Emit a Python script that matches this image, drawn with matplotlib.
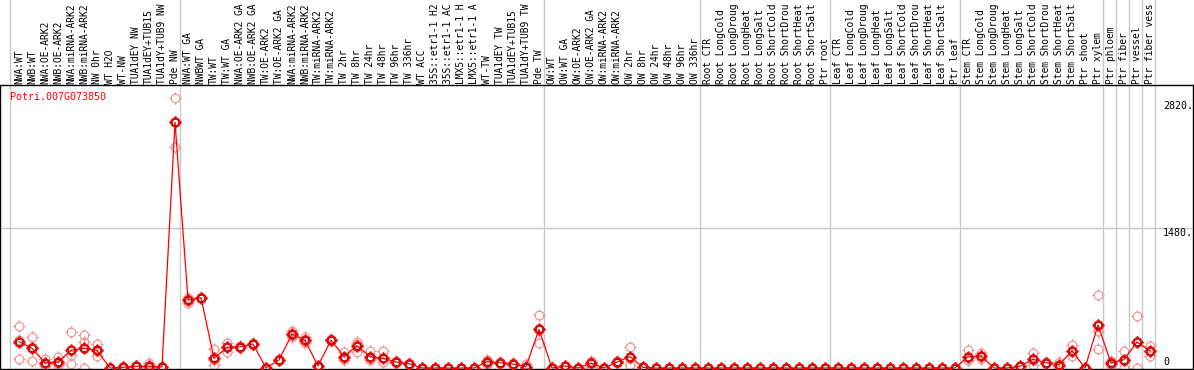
"""
Expression profile of Potri.007G073850 across poplar samples:
replicate values (light) and sample means (line).
"""

import matplotlib

matplotlib.use("Agg")
import matplotlib.pyplot as plt
from matplotlib.path import Path

gene = "Potri.007G073850"

# sample names as shown (the chart cuts them at 14 characters)
samples = [
    "NWA:WT", "NWB:WT", "NWA:OE-ARK2", "NWB:OE-ARK2", "NWA:miRNA-ARK2",
    "NWB:miRNA-ARK2", "NW 0hr", "WT H2O", "WT-NW", "TUA1dEY NW",
    "TUA1dEY+TUB15", "TUA1dY+TUB9 NW", "Pde NW", "NWA:WT GA", "NWBWT GA",
    "TW:WT", "TW:WT GA", "NWA:OE-ARK2 GA", "NWB:OE-ARK2 GA", "TW:OE-ARK2",
    "TW:OE-ARK2 GA", "NWA:miRNA-ARK2", "NWB:miRNA-ARK2", "TW:miRNA-ARK2",
    "TW:miRNA-ARK2", "TW 2hr", "TW 8hr", "TW 24hr", "TW 48hr", "TW 96hr",
    "TW 336hr", "WT ACC", "35S::etr1-1 H2", "35S::etr1-1 AC",
    "LMX5::etr1-1 H", "LMX5::etr1-1 A", "WT-TW", "TUA1dEY TW",
    "TUA1dEY+TUB15", "TUA1dY+TUB9 TW", "Pde TW", "OW:WT", "OW:WT GA",
    "OW:OE-ARK2", "OW:OE-ARK2 GA", "OW:miRNA-ARK2", "OW:miRNA-ARK2", "OW 2hr",
    "OW 8hr", "OW 24hr", "OW 48hr", "OW 96hr", "OW 336hr", "Root CTR",
    "Root LongCold", "Root LongDroug", "Root LongHeat", "Root LongSalt",
    "Root ShortCold", "Root ShortDrou", "Root ShortHeat", "Root ShortSalt",
    "Ptr root", "Leaf CTR", "Leaf LongCold", "Leaf LongDroug",
    "Leaf LongHeat", "Leaf LongSalt", "Leaf ShortCold", "Leaf ShortDrou",
    "Leaf ShortHeat", "Leaf ShortSalt", "Ptr leaf", "Stem CTR",
    "Stem LongCold", "Stem LongDroug", "Stem LongHeat", "Stem LongSalt",
    "Stem ShortCold", "Stem ShortDrou", "Stem ShortHeat", "Stem ShortSalt",
    "Ptr shoot", "Ptr xylem", "Ptr phloem", "Ptr fiber", "Ptr vessel",
    "Ptr fiber vess",
]

means = [
    278, 208, 56, 63, 187, 208, 187, 0, 8, 18,
    18, 11, 2600, 719, 743, 102, 219, 225, 254, 0,
    85, 359, 292, 21, 296, 120, 236, 120, 102, 63,
    46, 0, 0, 0, 0, 0, 67, 56, 42, 14,
    409, 0, 21, 0, 50, 0, 63, 120, 7, 0,
    0, 0, 0, 0, 0, 0, 0, 0, 0, 0,
    0, 0, 0, 0, 0, 0, 0, 0, 0, 0,
    0, 0, 0, 120, 127, 0, 0, 18, 92, 56,
    32, 183, 0, 455, 53, 88, 275, 180,
]

rep1 = [
    444, 331, 92, 113, 384, 349, 250, 0, 10, 20,
    50, 15, 2854, 737, 750, 198, 261, 235, 262, 0,
    90, 394, 324, 25, 310, 172, 278, 183, 180, 70,
    52, 0, 0, 0, 0, 0, 85, 62, 48, 45,
    560, 0, 25, 0, 74, 0, 70, 225, 8, 0,
    0, 0, 0, 0, 0, 0, 0, 0, 0, 0,
    0, 0, 0, 0, 0, 0, 0, 0, 0, 0,
    0, 0, 0, 190, 162, 0, 0, 22, 155, 62,
    63, 243, 0, 772, 74, 183, 550, 236,
]

rep2 = [
    298, 220, 55, 50, 140, 278, 185, 0, 8, 18,
    3, 10, 2600, 736, 743, 80, 224, 225, 254, 0,
    85, 352, 285, 21, 296, 103, 258, 96, 66, 63,
    46, 0, 0, 0, 0, 0, 74, 56, 42, 0,
    406, 0, 21, 0, 62, 0, 63, 103, 7, 0,
    0, 0, 0, 0, 0, 0, 0, 0, 0, 0,
    0, 0, 0, 0, 0, 0, 0, 0, 0, 0,
    0, 0, 0, 85, 127, 0, 0, 18, 89, 56,
    20, 179, 0, 395, 50, 81, 272, 177,
]

rep3 = [
    92, 74, 21, 28, 39, 3, 127, 0, 5, 15,
    2, 8, 2339, 684, 736, 32, 172, 215, 246, 0,
    80, 331, 267, 17, 282, 85, 172, 81, 60, 56,
    40, 0, 0, 0, 0, 0, 42, 50, 36, 0,
    261, 0, 17, 0, 14, 0, 56, 32, 6, 0,
    0, 0, 0, 0, 0, 0, 0, 0, 0, 0,
    0, 0, 0, 0, 0, 0, 0, 0, 0, 0,
    0, 0, 0, 85, 92, 0, 0, 14, 32, 50,
    13, 127, 0, 198, 35, 0, 3, 127,
]

# sample index after which a group separator is drawn
separators = [12, 40, 52, 62, 72, 83, 84, 85, 86, 87]
gridline = 1480
ytick_values = [2820, 1480, 0]
ytick_labels = ["2820.", "1480.", "0"]

W, H = 1194, 370
PX = 1.0 / 13  # one pixel in x data units
VPX = 1480 / 140  # one pixel in y data units


def ring_marker():
    spikes = []
    for dx, dy in [(1, 0), (-1, 0), (0, 1), (0, -1)]:
        spikes.append(Path([(dx, dy), (1.45 * dx, 1.45 * dy)],
                           [Path.MOVETO, Path.LINETO]))
    return Path.make_compound_path(Path.unit_circle(), *spikes)


def main():
    plt.rcParams["font.family"] = ["DejaVu Sans Mono"]
    fig = plt.figure(figsize=(W / 100, H / 100), dpi=100)

    xlim = (-19 * PX, (1193 - 19) * PX)
    ax = fig.add_axes([0, 1 / H, 1193 / W, 284 / H])
    ax.set_xlim(*xlim)
    ax.set_ylim(-1 * VPX, 283 * VPX)
    ax.set_xticks([])
    ax.set_yticks([])
    for s in ax.spines.values():
        s.set_color("black")
        s.set_linewidth(1.0)

    lab = fig.add_axes([0, 285 / H, 1193 / W, 85 / H])
    lab.set_xlim(*xlim)
    lab.set_ylim(0, 85)
    lab.axis("off")

    grey = "#c8c8c8"
    for a in (ax, lab):
        a.axvline(-9 * PX, color=grey, lw=1.0, zorder=0)
        for s in separators:
            a.axvline(s + 5 * PX, color=grey, lw=1.0, zorder=0)
    ax.axhline(gridline, color=grey, lw=1.0, zorder=0)

    x = list(range(len(samples)))
    for i, name in enumerate(samples):
        lab.text(i, 1.5, name, rotation=90, ha="center", va="bottom",
                 fontsize=6.9, color="black", clip_on=False)

    marker = ring_marker()
    for reps in (rep1, rep2, rep3):
        ax.plot(x, reps, ls="none", marker=marker, ms=9, mfc="none",
                mec="#f09a9a", mew=0.9, zorder=2)

    ax.plot(x, means, color="red", lw=0.9, zorder=3)
    ax.plot(x, means, ls="none", marker=marker, ms=9, mfc="none",
            mec="red", mew=1.2, zorder=4)
    ax.plot(x, means, ls="none", marker="o", ms=4.6, mfc="none",
            mec="#7a0000", mew=0.6, zorder=5)

    for v, t in zip(ytick_values, ytick_labels):
        dy = 6 if v == 0 else -5
        ax.annotate(t, xy=((1163 - 19) * PX, v), xytext=(0, dy * 0.72),
                    textcoords="offset points", ha="left", va="center",
                    fontsize=7.2, color="black")

    ax.text((10 - 19) * PX, (368 - 97) * VPX, gene, ha="left", va="center",
            fontsize=7.2, color="red")

    fig.savefig("out.png", dpi=100)


if __name__ == "__main__":
    main()
